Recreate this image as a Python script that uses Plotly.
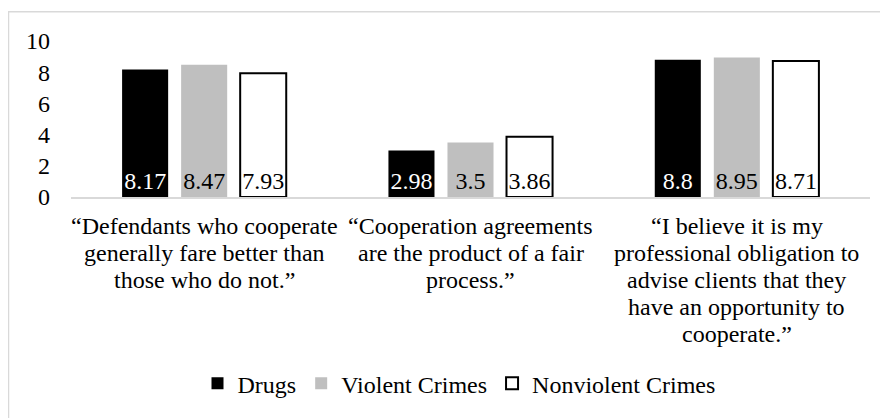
import plotly.graph_objects as go

categories = ["c1", "c2", "c3"]
category_lines = [
    ["\u201cDefendants who cooperate", "generally fare better than", "those who do not.\u201d"],
    ["\u201cCooperation agreements", "are the product of a fair", "process.\u201d"],
    ["\u201cI believe it is my", "professional obligation to", "advise clients that they",
     "have an opportunity to", "cooperate.\u201d"],
]
series_names = ["Drugs", "Violent Crimes", "Nonviolent Crimes"]
drugs = [8.17, 2.98, 8.8]
violent = [8.47, 3.5, 8.95]
nonviolent = [7.93, 3.86, 8.71]
y_ticks = [0, 2, 4, 6, 8, 10]

FONT = "Liberation Serif"
OFF = 8  # page body margin
W, H = 880, 410
ML, MR, MT, MB = 63, 18, 33, 219
PW = W - ML - MR
PH = H - MT - MB


def px_x(px):
    return (px - OFF - ML) / PW


def px_y(py):
    return (H - MB - (py - OFF)) / PH


fig = go.Figure()
styles = [
    dict(color="#000000", line=dict(color="#000000", width=0), tc="#ffffff"),
    dict(color="#bfbfbf", line=dict(color="#bfbfbf", width=0), tc="#000000"),
    dict(color="#ffffff", line=dict(color="#000000", width=2), tc="#000000"),
]
for name, vals, st in zip(series_names, [drugs, violent, nonviolent], styles):
    fig.add_trace(go.Bar(
        name=name, x=categories, y=vals,
        marker=dict(color=st["color"], line=st["line"]),
        text=[f"{v:g}" for v in vals],
        textposition="inside", insidetextanchor="start", textangle=0,
        textfont=dict(family=FONT, size=24, color=st["tc"]),
        constraintext="none", cliponaxis=False,
    ))

annotations = []
for cat, lines in zip(categories, category_lines):
    for i, ln in enumerate(lines):
        annotations.append(dict(
            x=cat, xref="x", y=0, yref="paper", yanchor="middle",
            yshift=-29 - 27 * i, text=ln, showarrow=False,
            font=dict(family=FONT, size=24, color="#000000"),
        ))

fig.add_shape(type="rect", xref="paper", yref="paper",
              x0=px_x(8.5), x1=px_x(905), y0=px_y(440), y1=px_y(11.5),
              line=dict(color="#d9d9d9", width=1.5), fillcolor="rgba(0,0,0,0)",
              layer="below")

fig.update_layout(
    width=W, height=H,
    margin=dict(l=ML, r=MR, t=MT, b=MB),
    paper_bgcolor="#ffffff", plot_bgcolor="#ffffff",
    barmode="group", bargap=0.335, bargroupgap=0.22,
    font=dict(family=FONT, size=24, color="#000000"),
    showlegend=True,
    legend=dict(orientation="h", x=px_x(459), xanchor="center",
                y=px_y(388), yanchor="middle",
                font=dict(family=FONT, size=24, color="#000000"),
                bgcolor="rgba(0,0,0,0)"),
    annotations=annotations,
    xaxis=dict(showticklabels=False, showline=True, linecolor="#d9d9d9",
               linewidth=1.5, ticks="", showgrid=False, zeroline=False,
               range=[-0.5, 2.5]),
    yaxis=dict(range=[0, 10], tickvals=y_ticks, showgrid=False,
               zeroline=False, showline=False, ticks="",
               ticklabelstandoff=20,
               tickfont=dict(family=FONT, size=24, color="#000000")),
)

fig.write_html("out.html")
